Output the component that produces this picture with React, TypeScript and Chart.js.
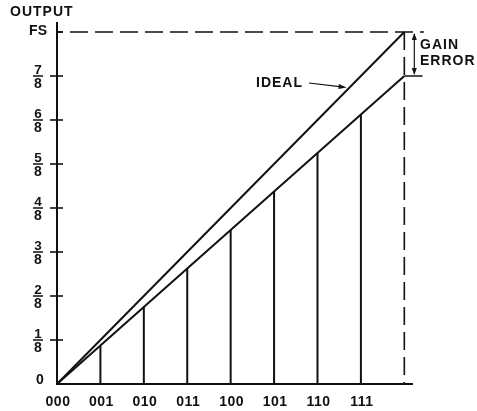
import React, { useEffect, useRef } from 'react';
import { Chart, registerables } from 'chart.js';

Chart.register(...registerables);

// Input codes (x positions 0..7) and full scale position
const codeLabels = ['000', '001', '010', '011', '100', '101', '110', '111'];
const codeSteps = [0, 1, 2, 3, 4, 5, 6, 7];
const fullScaleStep = 8;

// Output axis (in eighths of full scale)
const yTickValues = [0, 1, 2, 3, 4, 5, 6, 7, 8];
const yTickLabels = ['0', '1/8', '2/8', '3/8', '4/8', '5/8', '6/8', '7/8', 'FS'];

// Ideal transfer line: start and full scale
const idealSteps = [0, 8];
const idealOutput = [0, 8];

// Actual (with gain error) output at each code, and at full scale
const actualSteps = [0, 1, 2, 3, 4, 5, 6, 7, 8];
const actualOutput = [0, 0.875, 1.75, 2.625, 3.5, 4.375, 5.25, 6.125, 7];

const FONT = '"Liberation Sans", Arial, Helvetica, sans-serif';

export default function App() {
  const ref = useRef<HTMLCanvasElement | null>(null);

  useEffect(() => {
    const canvas = ref.current;
    if (!canvas) return;

    const black = '#111';

    const stemSets = codeSteps.slice(1).map((s) => ({
      type: 'line' as const,
      data: [
        { x: s, y: 0 },
        { x: s, y: actualOutput[s] },
      ],
      borderColor: black,
      borderWidth: 2,
      pointRadius: 0,
    }));

    const decor = {
      id: 'decor',
      afterDraw(chart: any) {
        const ctx = chart.ctx as CanvasRenderingContext2D;
        const xs = chart.scales.x;
        const ys = chart.scales.y;
        const ca = chart.chartArea;
        const x0 = xs.getPixelForValue(0);
        const y0 = ys.getPixelForValue(0);
        ctx.save();
        ctx.strokeStyle = black;
        ctx.fillStyle = black;
        ctx.lineCap = 'butt';

        // axes
        ctx.lineWidth = 2;
        ctx.beginPath();
        ctx.moveTo(x0, ca.top);
        ctx.lineTo(x0, y0 + 1);
        ctx.moveTo(x0 - 1, y0);
        ctx.lineTo(ca.right, y0);
        ctx.stroke();

        // y ticks crossing axis
        ctx.lineWidth = 1.6;
        yTickValues.forEach((v) => {
          if (v === 0) return;
          const py = ys.getPixelForValue(v);
          ctx.beginPath();
          ctx.moveTo(v === 8 ? x0 : x0 - 7, py);
          ctx.lineTo(x0 + 6, py);
          ctx.stroke();
        });

        // y labels
        ctx.font = `bold 13px ${FONT}`;
        (ctx as any).letterSpacing = '0px';
        yTickValues.forEach((v, i) => {
          const lab = yTickLabels[i];
          const py = ys.getPixelForValue(v);
          if (lab.includes('/')) {
            const [n, d] = lab.split('/');
            const cx = 38;
            ctx.textAlign = 'center';
            ctx.textBaseline = 'alphabetic';
            ctx.font = `bold 13.5px ${FONT}`;
            ctx.fillText(n, cx, py - 1.5);
            ctx.font = `bold 14px ${FONT}`;
            ctx.fillText(d, cx, py + 12.5);
            ctx.lineWidth = 1.5;
            ctx.beginPath();
            ctx.moveTo(cx - 5, py);
            ctx.lineTo(cx + 5, py);
            ctx.stroke();
          } else if (lab === 'FS') {
            ctx.font = `bold 14px ${FONT}`;
            ctx.textAlign = 'right';
            ctx.textBaseline = 'middle';
            ctx.fillText(lab, 47, py - 1);
          } else {
            ctx.font = `bold 14px ${FONT}`;
            ctx.textAlign = 'center';
            ctx.textBaseline = 'middle';
            ctx.fillText(lab, 40, py - 4);
          }
        });

        // x labels
        ctx.font = `bold 14px ${FONT}`;
        (ctx as any).letterSpacing = '0.5px';
        ctx.textAlign = 'center';
        ctx.textBaseline = 'middle';
        codeSteps.forEach((s, i) => {
          ctx.fillText(codeLabels[i], xs.getPixelForValue(s) + 1, y0 + 18);
        });

        // axis title
        (ctx as any).letterSpacing = '1px';
        ctx.textAlign = 'left';
        ctx.fillText('OUTPUT', 10, 12);

        // gain error arrow
        const fsX = xs.getPixelForValue(fullScaleStep);
        const ax = fsX + 10;
        const yTop = ys.getPixelForValue(8);
        const yBot = ys.getPixelForValue(7);
        ctx.lineWidth = 1.2;
        ctx.beginPath();
        ctx.moveTo(ax, yTop + 2);
        ctx.lineTo(ax, yBot - 2);
        ctx.stroke();
        ctx.beginPath();
        ctx.moveTo(ax, yTop + 1);
        ctx.lineTo(ax - 2.5, yTop + 8);
        ctx.lineTo(ax + 2.5, yTop + 8);
        ctx.closePath();
        ctx.fill();
        ctx.beginPath();
        ctx.moveTo(ax, yBot - 1);
        ctx.lineTo(ax - 2.5, yBot - 8);
        ctx.lineTo(ax + 2.5, yBot - 8);
        ctx.closePath();
        ctx.fill();

        ctx.textAlign = 'left';
        ctx.textBaseline = 'middle';
        ctx.fillText('GAIN', 420, 45);
        ctx.fillText('ERROR', 420, 61);

        // IDEAL label with arrow
        ctx.fillText('IDEAL', 256, 83);
        const tipY = 87.5;
        const tipX = xs.getPixelForValue(ys.getValueForPixel(tipY)) - 3;
        const sx = 309;
        const sy = 83;
        ctx.lineWidth = 1.2;
        ctx.beginPath();
        ctx.moveTo(sx, sy);
        ctx.lineTo(tipX - 5, tipY - 0.6);
        ctx.stroke();
        const ang = Math.atan2(tipY - sy, tipX - sx);
        ctx.beginPath();
        ctx.moveTo(tipX, tipY);
        ctx.lineTo(tipX - 8 * Math.cos(ang) + 2.5 * Math.sin(ang), tipY - 8 * Math.sin(ang) - 2.5 * Math.cos(ang));
        ctx.lineTo(tipX - 8 * Math.cos(ang) - 2.5 * Math.sin(ang), tipY - 8 * Math.sin(ang) + 2.5 * Math.cos(ang));
        ctx.closePath();
        ctx.fill();

        ctx.restore();
      },
    };

    const chart = new Chart(canvas, {
      type: 'line',
      data: {
        datasets: [
          {
            data: idealSteps.map((s, i) => ({ x: s, y: idealOutput[i] })),
            borderColor: black,
            borderWidth: 2,
            pointRadius: 0,
          },
          {
            data: actualSteps.map((s, i) => ({ x: s, y: actualOutput[i] })),
            borderColor: black,
            borderWidth: 2,
            pointRadius: 0,
          },
          ...stemSets,
          {
            data: [
              { x: 0, y: 8 },
              { x: 8.45, y: 8 },
            ],
            borderColor: black,
            borderWidth: 1.6,
            borderDash: [18, 7],
            borderDashOffset: 12,
            pointRadius: 0,
            clip: false as any,
          },
          {
            data: [
              { x: fullScaleStep, y: 8 },
              { x: fullScaleStep, y: 0 },
            ],
            borderColor: black,
            borderWidth: 1.6,
            borderDash: [18, 7],
            pointRadius: 0,
          },
          {
            data: [
              { x: fullScaleStep, y: actualOutput[8] },
              { x: 8.42, y: actualOutput[8] },
            ],
            borderColor: black,
            borderWidth: 1.5,
            pointRadius: 0,
            clip: false as any,
          },
        ] as any,
      },
      options: {
        animation: false,
        responsive: false,
        devicePixelRatio: 1,
        events: [],
        layout: { padding: { left: 57, top: 22, right: 64, bottom: 27 } },
        plugins: { legend: { display: false }, tooltip: { enabled: false } },
        scales: {
          x: { type: 'linear', display: false, min: 0, max: 8.2, offset: false },
          y: { type: 'linear', display: false, min: 0, max: 8.227 },
        },
      },
      plugins: [decor],
    });

    return () => chart.destroy();
  }, []);

  return (
    <div style={{ position: 'fixed', left: 0, top: 0, width: 477, height: 411, background: '#fff' }}>
      <canvas ref={ref} width={477} height={411} style={{ display: 'block' }} />
    </div>
  );
}
